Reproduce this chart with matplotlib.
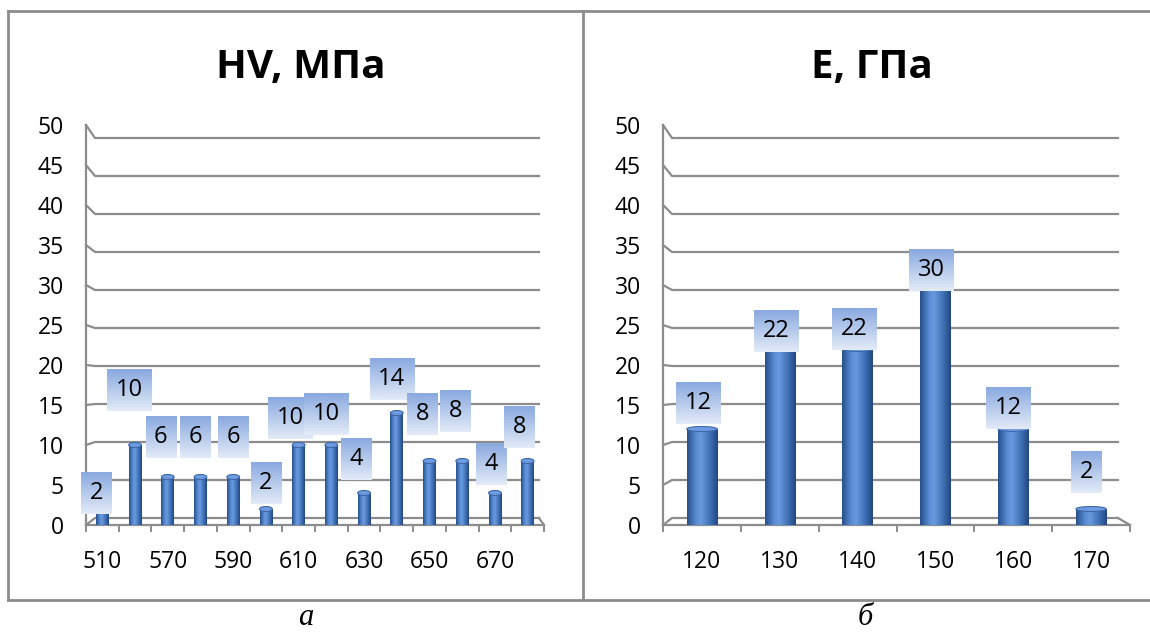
import numpy as np
import matplotlib
matplotlib.use("Agg")
import matplotlib.pyplot as plt
from matplotlib.colors import LinearSegmentedColormap
from matplotlib.lines import Line2D
from matplotlib.offsetbox import OffsetImage, AnnotationBbox
from matplotlib.patches import Ellipse


# data
HV_CATEGORIES = ["510", "560", "570", "580", "590", "600", "610",
                 "620", "630", "640", "650", "660", "670", "680"]
HV_VALUES = [2, 10, 6, 6, 6, 2, 10, 10, 4, 14, 8, 8, 4, 8]
HV_TITLE = "HV, МПа"

E_CATEGORIES = ["120", "130", "140", "150", "160", "170"]
E_VALUES = [12, 22, 22, 30, 12, 2]
E_TITLE = "E, ГПа"

Y_TICKS = list(range(0, 51, 5))

# label box nudges in pixels, relative to the top of each bar
HV_LABEL_NUDGE = [(-6, 16), (-6, 55), (-7, 40), (-5, 40), (0, 40), (0, 26), (-8, 27),
                  (-5, 31), (-8, 34), (-5, 34), (-7, 47), (-7, 50), (-4, 29), (-8, 34)]
E_LABEL_NUDGE = [(-4, 26), (-4, 18), (-3, 20), (-4, 15), (-5, 21), (-5, 37)]

DPI = 100
W_PX, H_PX = 1150, 634
PT = 72.0 / DPI
GRID_COLOR = "#8c8c8c"

plt.rcParams["font.family"] = ["Open Sans", "DejaVu Sans"]

cyl = LinearSegmentedColormap.from_list(
    "cyl", [(0.0, "#27508c"), (0.3, "#5a8dd5"), (0.45, "#6a9ade"),
            (0.75, "#3f70b6"), (1.0, "#224780")])

box_top = np.array([0x8a, 0xaa, 0xe0]) / 255.0
box_bot = np.array([0xe2, 0xea, 0xf7]) / 255.0


def label_box(width_px, height_px=41):
    w = int(round(width_px * PT))
    h = int(round(height_px * PT))
    t = np.linspace(0, 1, h)[:, None, None]
    arr = box_top * (1 - t) + box_bot * t
    return np.repeat(arr, w, axis=1)


def draw_panel(ax, categories, values, nudges, tick_every, grid_end_px):
    n = len(categories)
    x = np.arange(n)
    ax.set_xlim(-0.5, n - 0.5)
    ax.set_ylim(0, 50)

    bbox = ax.get_position()
    ax_w_px = bbox.width * W_PX
    ax_h_px = bbox.height * H_PX
    px_x = n / ax_w_px          # data units per pixel, x
    px_y = 50.0 / ax_h_px       # data units per pixel, y

    # back wall gridlines, shifted like the 3d chart
    x0, x1 = -0.5, n - 0.5
    d = 9 * px_x
    e = grid_end_px * px_x
    for v in Y_TICKS:
        g = 0.875 + 0.95 * v
        ax.add_line(Line2D([x0, x0 + d, x1 - e], [v, g, g], color=GRID_COLOR,
                           lw=1.6, clip_on=False, zorder=1))
    g0 = 0.875
    ax.add_line(Line2D([x1 - e, x1], [g0, 0], color=GRID_COLOR, lw=1.6,
                       clip_on=False, zorder=1))

    bars = ax.bar(x, values, width=0.39, color="none", edgecolor="none", zorder=3)
    grad = np.linspace(0, 1, 64)[None, :]
    cap_h = 5 * px_y
    for p, v in zip(bars, values):
        bx, bw = p.get_x(), p.get_width()
        im = ax.imshow(grad, extent=[bx, bx + bw, 0, v], aspect="auto",
                       cmap=cyl, zorder=3)
        im.set_clip_path(p)
        ax.add_patch(Ellipse((bx + bw / 2, v), bw, cap_h, facecolor="#6f9be0",
                             edgecolor="#3d69aa", lw=0.8, zorder=4))
        ax.add_patch(Ellipse((bx + bw / 2, 0), bw, cap_h, facecolor="#3a67a8",
                             edgecolor="none", zorder=2))

    for xi, v, (dx, dy) in zip(x, values, nudges):
        txt = str(v)
        box_w = 44 if len(txt) > 1 else 31
        ab = AnnotationBbox(OffsetImage(label_box(box_w), zoom=1), (xi, v),
                            xybox=(dx * PT, dy * PT), xycoords="data",
                            boxcoords="offset points", frameon=False, pad=0,
                            zorder=5, annotation_clip=False)
        ax.add_artist(ab)
        ax.annotate(txt, (xi, v), xytext=(dx * PT, dy * PT),
                    textcoords="offset points", ha="center", va="center",
                    fontsize=17, color="black", zorder=6, annotation_clip=False)

    ax.set_xlim(-0.5, n - 0.5)
    ax.set_ylim(0, 50)

    ax.set_xticks(x)
    ax.set_xticklabels([c if i % tick_every == 0 else "" for i, c in enumerate(categories)])
    ax.set_xticks(np.arange(n + 1) - 0.5, minor=True)
    ax.tick_params(axis="x", which="major", length=0, pad=18, labelsize=16.5)
    ax.tick_params(axis="x", which="minor", length=5, width=1.4, color=GRID_COLOR)
    ax.set_yticks(Y_TICKS)
    ax.tick_params(axis="y", length=0, pad=16, labelsize=16.5)

    for side in ("top", "right"):
        ax.spines[side].set_visible(False)
    for side in ("left", "bottom"):
        ax.spines[side].set_color(GRID_COLOR)
        ax.spines[side].set_linewidth(1.6)
    ax.set_facecolor("none")


fig = plt.figure(figsize=(W_PX / DPI, H_PX / DPI), dpi=DPI)

bottom = 109 / H_PX
height = 400 / H_PX
ax1 = fig.add_axes([86 / W_PX, bottom, 458 / W_PX, height])
ax2 = fig.add_axes([663 / W_PX, bottom, 467 / W_PX, height])

draw_panel(ax1, HV_CATEGORIES, HV_VALUES, HV_LABEL_NUDGE, 2, 5)
draw_panel(ax2, E_CATEGORIES, E_VALUES, E_LABEL_NUDGE, 1, 12)

fig.text(301 / W_PX, 1 - 78 / H_PX, HV_TITLE, ha="center", va="baseline",
         fontsize=29, fontweight="bold")
fig.text(872 / W_PX, 1 - 78 / H_PX, E_TITLE, ha="center", va="baseline",
         fontsize=29, fontweight="bold")

# panel frames
frame_kw = dict(color=GRID_COLOR, lw=2.0, transform=fig.transFigure)
top_y = 1 - 10.5 / H_PX
bot_y = 1 - 600 / H_PX
fig.add_artist(Line2D([7.5 / W_PX, 1], [top_y, top_y], **frame_kw))
fig.add_artist(Line2D([7.5 / W_PX, 1], [bot_y, bot_y], **frame_kw))
fig.add_artist(Line2D([7.5 / W_PX, 7.5 / W_PX], [bot_y, top_y], **frame_kw))
fig.add_artist(Line2D([583 / W_PX, 583 / W_PX], [bot_y, top_y], **frame_kw))

cap_kw = dict(ha="center", va="bottom", fontsize=22, style="italic",
              family=["Liberation Serif", "DejaVu Serif"])
fig.text(306 / W_PX, 2 / H_PX, "а", **cap_kw)
fig.text(865 / W_PX, 2 / H_PX, "б", **cap_kw)

fig.savefig("out.png", dpi=DPI)
